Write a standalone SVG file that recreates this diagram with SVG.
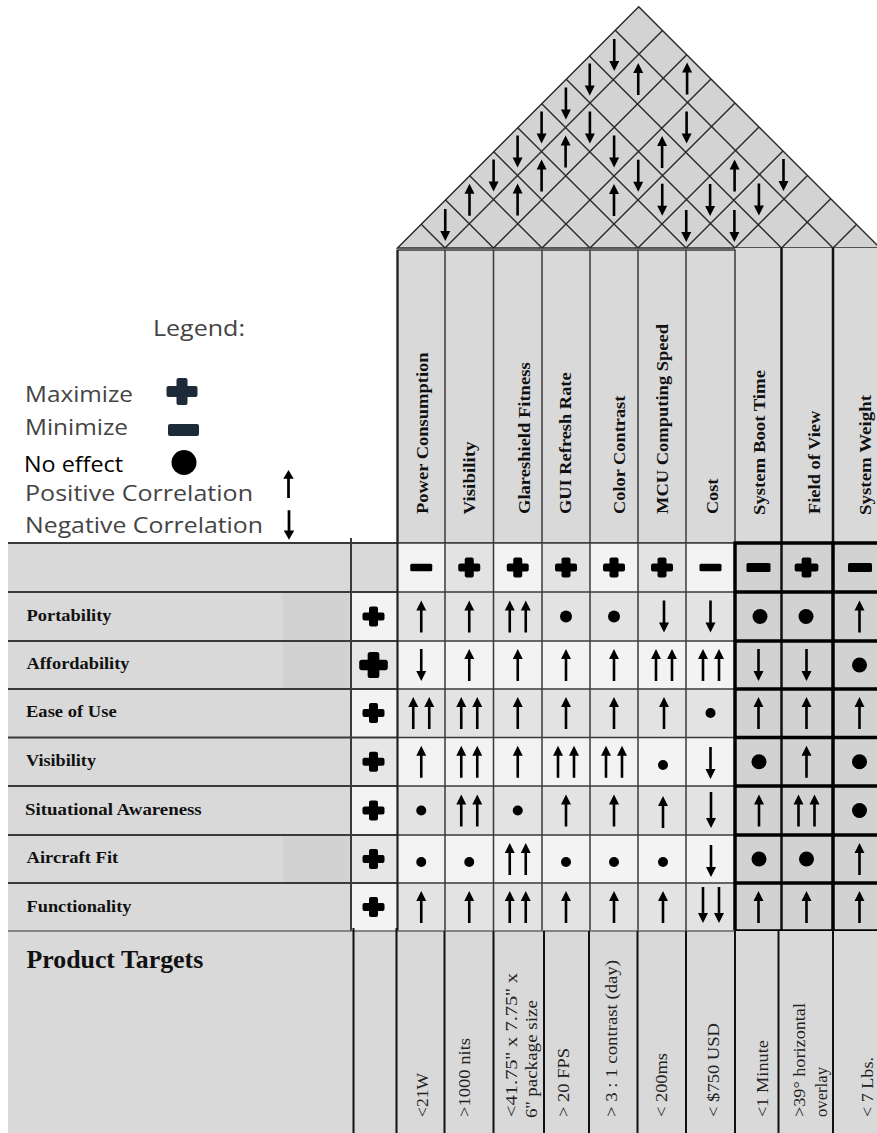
<svg xmlns="http://www.w3.org/2000/svg" xmlns:xlink="http://www.w3.org/1999/xlink" width="877" height="1133" viewBox="0 0 877 1133">
  <style>
    .serifb { font-family: "Liberation Serif", "Times New Roman", serif; font-weight: bold; font-size: 16px; fill: #111; }
    .serif { font-family: "Liberation Serif", "Times New Roman", serif; font-size: 16px; fill: #222; }
    .leg { font-family: "Open Sans", "Noto Sans", sans-serif; font-size: 21px; fill: #444; }
    .grid { stroke: #2a2a2a; stroke-width: 1.5; fill: none; }
    .thin { stroke: #3a3a3a; stroke-width: 1.5; }
    .rowline { stroke: #3a3a3a; stroke-width: 2; }
    .heavy { stroke: #000; stroke-width: 3.5; }
    .mid { stroke: #111; stroke-width: 2.5; }
    .tline { stroke: #111; stroke-width: 2; }
    .sym { fill: #000; }
  </style>
  <defs>
    <path id="up" d="M0,-16 L5,-6 L1.3,-6 L1.3,16 L-1.3,16 L-1.3,-6 L-5,-6 Z"/>
    <path id="dn" d="M0,16 L5,6 L1.3,6 L1.3,-16 L-1.3,-16 L-1.3,6 L-5,6 Z"/>
    <path id="dnL" d="M0,18 L5,8 L1.3,8 L1.3,-18 L-1.3,-18 L-1.3,8 L-5,8 Z"/>
    <g id="uu"><use href="#up" x="-8"/><use href="#up" x="8"/></g>
    <g id="dd"><use href="#dnL" x="-8"/><use href="#dnL" x="8"/></g>
    <g id="plus"><rect x="-11" y="-4" width="22" height="8" rx="2"/><rect x="-4.5" y="-10" width="9" height="20" rx="2"/></g>
    <rect id="minus" x="-11" y="-3.8" width="22" height="7.6" rx="1.5"/>
    <rect id="minusB" x="-12" y="-4.5" width="24" height="9" rx="1.5"/>
    <circle id="d5" r="5"/>
    <circle id="d6" r="6"/>
    <circle id="dB" r="7.5"/>
  </defs>

  <rect width="877" height="1133" fill="#fff"/>

  <!-- correlation roof -->
  <g id="roof">
    <polygon points="397.5,248 638.75,6.75 880,248" fill="#d3d3d3" stroke="#2a2a2a" stroke-width="1.5"/>
    <g class="grid">
      <line x1="445" y1="248" x2="662.5" y2="30.5"/>
      <line x1="493.5" y1="248" x2="686.75" y2="54.75"/>
      <line x1="542" y1="248" x2="711" y2="79"/>
      <line x1="590" y1="248" x2="735" y2="103"/>
      <line x1="638" y1="248" x2="759" y2="127"/>
      <line x1="686" y1="248" x2="783" y2="151"/>
      <line x1="735" y1="248" x2="807.5" y2="175.5"/>
      <line x1="781.5" y1="248" x2="830.75" y2="198.75"/>
      <line x1="833" y1="248" x2="856.5" y2="224.5"/>
      <line x1="445" y1="248" x2="421.25" y2="224.25"/>
      <line x1="493.5" y1="248" x2="445.5" y2="200"/>
      <line x1="542" y1="248" x2="469.75" y2="175.75"/>
      <line x1="590" y1="248" x2="493.75" y2="151.75"/>
      <line x1="638" y1="248" x2="517.75" y2="127.75"/>
      <line x1="686" y1="248" x2="541.75" y2="103.75"/>
      <line x1="735" y1="248" x2="566.25" y2="79.25"/>
      <line x1="781.5" y1="248" x2="589.5" y2="56"/>
      <line x1="833" y1="248" x2="615.25" y2="30.25"/>
    </g>
    <g class="sym">
      <use href="#dn" x="614.25" y="55"/>
      <use href="#up" x="638.25" y="79"/>
      <use href="#up" x="687.1" y="78.6"/>
      <use href="#dn" x="589.75" y="79.5"/>
      <use href="#dn" x="565.9" y="103.4"/>
      <use href="#dn" x="589.9" y="127.4"/>
      <use href="#dn" x="686.6" y="127.4"/>
      <use href="#dn" x="541.6" y="127.6"/>
      <use href="#dn" x="517.6" y="151.6"/>
      <use href="#up" x="565.6" y="151.6"/>
      <use href="#dn" x="614.1" y="151.6"/>
      <use href="#up" x="662.1" y="151.9"/>
      <use href="#dn" x="493.6" y="175.6"/>
      <use href="#up" x="541.6" y="175.6"/>
      <use href="#dn" x="638.25" y="175.75"/>
      <use href="#up" x="734.6" y="175.4"/>
      <use href="#dn" x="783.5" y="175"/>
      <use href="#up" x="469.5" y="199.75"/>
      <use href="#up" x="517.6" y="199.6"/>
      <use href="#up" x="614" y="200"/>
      <use href="#dn" x="662.25" y="199.75"/>
      <use href="#dn" x="710.1" y="199.9"/>
      <use href="#dn" x="758.9" y="199.6"/>
      <use href="#dn" x="445.25" y="225"/>
      <use href="#dn" x="686.25" y="226"/>
      <use href="#dn" x="734.4" y="226"/>
    </g>
  </g>

  <!-- engineering characteristics header -->
  <g id="header">
    <rect x="735" y="248" width="142" height="295" fill="#d9d9d9"/>
    <rect x="397.5" y="250" width="337.5" height="293" fill="#d9d9d9" stroke="#3a3a3a" stroke-width="1.5"/>
    <g class="thin">
      <line x1="445" y1="250" x2="445" y2="543"/>
      <line x1="493.5" y1="250" x2="493.5" y2="543"/>
      <line x1="542" y1="250" x2="542" y2="543"/>
      <line x1="590" y1="250" x2="590" y2="543"/>
      <line x1="638" y1="250" x2="638" y2="543"/>
      <line x1="686" y1="250" x2="686" y2="543"/>
    </g>
    <line class="mid" x1="781.5" y1="248" x2="781.5" y2="543"/>
    <line class="mid" x1="833" y1="248" x2="833" y2="543"/>
    <g class="serifb">
      <text transform="translate(428,514) rotate(-90)" textLength="161.6" lengthAdjust="spacingAndGlyphs">Power Consumption</text>
      <text transform="translate(474.5,514.5) rotate(-90)" textLength="73" lengthAdjust="spacingAndGlyphs">Visibility</text>
      <text transform="translate(530,514) rotate(-90)" textLength="151.6" lengthAdjust="spacingAndGlyphs">Glareshield Fitness</text>
      <text transform="translate(571,514) rotate(-90)" textLength="141.6" lengthAdjust="spacingAndGlyphs">GUI Refresh Rate</text>
      <text transform="translate(624.5,514) rotate(-90)" textLength="118.3" lengthAdjust="spacingAndGlyphs">Color Contrast</text>
      <text transform="translate(668,514) rotate(-90)" textLength="190" lengthAdjust="spacingAndGlyphs">MCU Computing Speed</text>
      <text transform="translate(717.5,514) rotate(-90)" textLength="35.3" lengthAdjust="spacingAndGlyphs">Cost</text>
      <text transform="translate(764.5,515) rotate(-90)" textLength="145" lengthAdjust="spacingAndGlyphs">System Boot Time</text>
      <text transform="translate(819.5,514) rotate(-90)" textLength="103.3" lengthAdjust="spacingAndGlyphs">Field of View</text>
      <text transform="translate(871,515) rotate(-90)" textLength="120" lengthAdjust="spacingAndGlyphs">System Weight</text>
    </g>
  </g>

  <!-- legend -->
  <g id="legend">
    <text class="leg" x="153" y="336" textLength="92" lengthAdjust="spacingAndGlyphs">Legend:</text>
    <text class="leg" x="25" y="401.5" textLength="108" lengthAdjust="spacingAndGlyphs">Maximize</text>
    <text class="leg" x="25" y="435" textLength="103" lengthAdjust="spacingAndGlyphs">Minimize</text>
    <text class="leg" x="24" y="471.5" textLength="99" lengthAdjust="spacingAndGlyphs" style="fill:#000">No effect</text>
    <text class="leg" x="25" y="500.5" textLength="228" lengthAdjust="spacingAndGlyphs">Positive Correlation</text>
    <text class="leg" x="25" y="533.3" textLength="238" lengthAdjust="spacingAndGlyphs">Negative Correlation</text>
    <g fill="#1d2b38">
      <rect x="166.5" y="386" width="31" height="11" rx="2"/>
      <rect x="176.5" y="378" width="11" height="27" rx="2"/>
      <rect x="168" y="424" width="31" height="12" rx="2"/>
    </g>
    <circle cx="184" cy="462.5" r="12.5" fill="#000"/>
    <use href="#up" transform="translate(288.5,484) scale(1.05,0.88)"/>
    <use href="#dn" transform="translate(289,525) scale(1.05,0.92)"/>
  </g>

  <!-- customer requirements and relationship matrix -->
  <g id="matrix">
    <rect x="8" y="543" width="343" height="388" fill="#d9d9d9"/>
    <rect x="283" y="592" width="66" height="97" fill="#d2d2d2"/>
    <rect x="283" y="835" width="66" height="48" fill="#d2d2d2"/>
    <rect x="351" y="543" width="46.5" height="49" fill="#d9d9d9"/>
    <rect x="351" y="592" width="46.5" height="49" fill="#f3f3f3"/>
    <rect x="351" y="641" width="46.5" height="48" fill="#e6e6e6"/>
    <rect x="351" y="689" width="46.5" height="48.5" fill="#f3f3f3"/>
    <rect x="351" y="737.5" width="46.5" height="48.5" fill="#e6e6e6"/>
    <rect x="351" y="786" width="46.5" height="49" fill="#f3f3f3"/>
    <rect x="351" y="835" width="46.5" height="48" fill="#e6e6e6"/>
    <rect x="351" y="883" width="46.5" height="48" fill="#f3f3f3"/>

    <rect x="397.5" y="543" width="337.5" height="49" fill="#f3f3f3"/>
    <rect x="445" y="543" width="48.5" height="49" fill="#e3e3e3"/>
    <rect x="542" y="543" width="48" height="49" fill="#e3e3e3"/>
    <rect x="638" y="543" width="48" height="49" fill="#e3e3e3"/>
    <rect x="397.5" y="592" width="337.5" height="49" fill="#e3e3e3"/>
    <rect x="397.5" y="641" width="337.5" height="48" fill="#f3f3f3"/>
    <rect x="397.5" y="689" width="337.5" height="48.5" fill="#e3e3e3"/>
    <rect x="397.5" y="737.5" width="337.5" height="48.5" fill="#f3f3f3"/>
    <rect x="397.5" y="786" width="337.5" height="49" fill="#e3e3e3"/>
    <rect x="397.5" y="835" width="337.5" height="48" fill="#f3f3f3"/>
    <rect x="397.5" y="883" width="337.5" height="48" fill="#e3e3e3"/>
    <rect x="735" y="543" width="142" height="388" fill="#d2d2d2"/>

    <g class="rowline">
      <line x1="8" y1="543" x2="397.5" y2="543"/>
      <line x1="8" y1="592" x2="397.5" y2="592"/>
      <line x1="8" y1="641" x2="397.5" y2="641"/>
      <line x1="8" y1="689" x2="397.5" y2="689"/>
      <line x1="8" y1="737.5" x2="397.5" y2="737.5"/>
      <line x1="8" y1="786" x2="397.5" y2="786"/>
      <line x1="8" y1="835" x2="397.5" y2="835"/>
      <line x1="8" y1="883" x2="397.5" y2="883"/>
      <line x1="351" y1="538" x2="351" y2="931"/>
    </g>
    <g class="thin">
      <line x1="397.5" y1="543" x2="735" y2="543"/>
      <line x1="397.5" y1="592" x2="735" y2="592"/>
      <line x1="397.5" y1="641" x2="735" y2="641"/>
      <line x1="397.5" y1="689" x2="735" y2="689"/>
      <line x1="397.5" y1="737.5" x2="735" y2="737.5"/>
      <line x1="397.5" y1="786" x2="735" y2="786"/>
      <line x1="397.5" y1="835" x2="735" y2="835"/>
      <line x1="397.5" y1="883" x2="735" y2="883"/>
      <line x1="445" y1="543" x2="445" y2="931"/>
      <line x1="493.5" y1="543" x2="493.5" y2="931"/>
      <line x1="542" y1="543" x2="542" y2="931"/>
      <line x1="590" y1="543" x2="590" y2="931"/>
      <line x1="638" y1="543" x2="638" y2="931"/>
      <line x1="686" y1="543" x2="686" y2="931"/>
    </g>
    <line x1="397.5" y1="250" x2="397.5" y2="931" stroke="#222" stroke-width="2.2"/>
    <line class="mid" x1="781.5" y1="543" x2="781.5" y2="931"/>
    <g class="heavy">
      <line x1="735" y1="541.5" x2="735" y2="932.5"/>
      <line x1="833" y1="541.5" x2="833" y2="932.5"/>
      <line x1="735" y1="543" x2="877" y2="543"/>
      <line x1="735" y1="592" x2="877" y2="592"/>
      <line x1="735" y1="641" x2="877" y2="641"/>
      <line x1="735" y1="689" x2="877" y2="689"/>
      <line x1="735" y1="737.5" x2="877" y2="737.5"/>
      <line x1="735" y1="786" x2="877" y2="786"/>
      <line x1="735" y1="835" x2="877" y2="835"/>
      <line x1="735" y1="883" x2="877" y2="883"/>
      <line x1="735" y1="931" x2="877" y2="931"/>
    </g>

    <g class="serifb">
      <text x="26.5" y="620.5" textLength="85" lengthAdjust="spacingAndGlyphs">Portability</text>
      <text x="26.5" y="669" textLength="103" lengthAdjust="spacingAndGlyphs">Affordability</text>
      <text x="26" y="717" textLength="90.7" lengthAdjust="spacingAndGlyphs">Ease of Use</text>
      <text x="26" y="766" textLength="70" lengthAdjust="spacingAndGlyphs">Visibility</text>
      <text x="25" y="815" textLength="176.7" lengthAdjust="spacingAndGlyphs">Situational Awareness</text>
      <text x="26.5" y="863" textLength="91.7" lengthAdjust="spacingAndGlyphs">Aircraft Fit</text>
      <text x="26.5" y="911.5" textLength="105" lengthAdjust="spacingAndGlyphs">Functionality</text>
    </g>

    <g class="sym">
      <!-- importance weights -->
      <use href="#plus" x="373.5" y="616.5"/>
      <use href="#plus" transform="translate(373.5,665) scale(1.3)"/>
      <use href="#plus" x="373.5" y="713"/>
      <use href="#plus" x="373.5" y="761.75"/>
      <use href="#plus" x="373.5" y="810.5"/>
      <use href="#plus" x="373.5" y="859"/>
      <use href="#plus" x="373.5" y="907"/>

      <!-- direction of improvement -->
      <use href="#minus" x="421.25" y="567.5"/>
      <use href="#plus" x="469.25" y="567.5"/>
      <use href="#plus" x="517.75" y="567.5"/>
      <use href="#plus" x="566" y="567.5"/>
      <use href="#plus" x="614" y="567.5"/>
      <use href="#plus" x="662" y="567.5"/>
      <use href="#minus" x="710.5" y="567.5"/>
      <use href="#minusB" x="758.5" y="567.5"/>
      <use href="#plus" transform="translate(806.5,567.5) scale(1.08,1)"/>
      <use href="#minusB" x="860" y="567.5"/>

      <!-- Portability -->
      <use href="#up" x="421.25" y="616.5"/>
      <use href="#up" x="469.25" y="616.5"/>
      <use href="#uu" x="517.75" y="616.5"/>
      <use href="#d6" x="566" y="616.5"/>
      <use href="#d6" x="614" y="616.5"/>
      <use href="#dn" x="664" y="616.5"/>
      <use href="#dn" x="710.5" y="616.5"/>
      <use href="#dB" x="760" y="616.5"/>
      <use href="#dB" x="806" y="616.5"/>
      <use href="#up" x="859.5" y="616.5"/>

      <!-- Affordability -->
      <use href="#dn" x="421.25" y="665"/>
      <use href="#up" x="469.25" y="665"/>
      <use href="#up" x="517.75" y="665"/>
      <use href="#up" x="566" y="665"/>
      <use href="#up" x="614" y="665"/>
      <use href="#uu" x="664" y="665"/>
      <use href="#uu" x="711" y="665"/>
      <use href="#dn" x="758.5" y="665"/>
      <use href="#dn" x="806.5" y="665"/>
      <use href="#dB" x="859.5" y="665"/>

      <!-- Ease of Use -->
      <use href="#uu" x="421.25" y="713"/>
      <use href="#uu" x="469.25" y="713"/>
      <use href="#up" x="517.75" y="713"/>
      <use href="#up" x="566" y="713"/>
      <use href="#up" x="614" y="713"/>
      <use href="#up" x="664" y="713"/>
      <use href="#d5" x="710.5" y="713"/>
      <use href="#up" x="758.5" y="713"/>
      <use href="#up" x="806.5" y="713"/>
      <use href="#up" x="859.5" y="713"/>

      <!-- Visibility -->
      <use href="#up" x="421.25" y="761.75"/>
      <use href="#uu" x="469.25" y="761.75"/>
      <use href="#up" x="517.75" y="761.75"/>
      <use href="#uu" x="566" y="761.75"/>
      <use href="#uu" x="614" y="761.75"/>
      <use href="#d5" x="663" y="765"/>
      <use href="#dn" x="710.5" y="763"/>
      <use href="#dB" x="759" y="761.75"/>
      <use href="#up" x="806.5" y="761.75"/>
      <use href="#dB" x="859.5" y="761.75"/>

      <!-- Situational Awareness -->
      <use href="#d5" x="421.25" y="810.5"/>
      <use href="#uu" x="469.25" y="810.5"/>
      <use href="#d5" x="517.75" y="810.5"/>
      <use href="#up" x="566" y="810.5"/>
      <use href="#up" x="614" y="810.5"/>
      <use href="#up" x="663" y="812"/>
      <use href="#dnL" x="711" y="810"/>
      <use href="#up" x="759" y="810.5"/>
      <use href="#uu" x="806.5" y="810.5"/>
      <use href="#dB" x="859.5" y="810.5"/>

      <!-- Aircraft Fit -->
      <use href="#d5" x="421.25" y="862"/>
      <use href="#d5" x="469.25" y="862"/>
      <use href="#uu" x="517.75" y="859"/>
      <use href="#d5" x="566" y="862"/>
      <use href="#d5" x="614" y="862"/>
      <use href="#d5" x="663" y="862"/>
      <use href="#dn" x="711" y="861"/>
      <use href="#dB" x="759" y="859"/>
      <use href="#dB" x="806.5" y="859"/>
      <use href="#up" x="859.5" y="859"/>

      <!-- Functionality -->
      <use href="#up" x="421.25" y="907"/>
      <use href="#up" x="469.25" y="907"/>
      <use href="#uu" x="517.75" y="907"/>
      <use href="#up" x="566" y="907"/>
      <use href="#up" x="614" y="907"/>
      <use href="#up" x="663" y="907"/>
      <use href="#dd" x="711" y="905"/>
      <use href="#up" x="758.5" y="907"/>
      <use href="#up" x="806.5" y="907"/>
      <use href="#up" x="859.5" y="907"/>
    </g>
  </g>

  <!-- product targets -->
  <g id="targets">
    <rect x="8" y="931" width="869" height="202" fill="#d9d9d9"/>
    <line x1="8" y1="931" x2="735" y2="931" stroke="#666" stroke-width="1.5"/>
    <g class="tline">
      <line x1="353.5" y1="928" x2="353.5" y2="1133"/>
      <line x1="396.5" y1="928" x2="396.5" y2="1133"/>
      <line x1="444.5" y1="931" x2="444.5" y2="1133"/>
      <line x1="493.5" y1="931" x2="493.5" y2="1133"/>
      <line x1="544" y1="931" x2="544" y2="1133"/>
      <line x1="589" y1="931" x2="589" y2="1133"/>
      <line x1="637.5" y1="931" x2="637.5" y2="1133"/>
      <line x1="686" y1="931" x2="686" y2="1133"/>
      <line x1="735" y1="931" x2="735" y2="1133"/>
      <line x1="778.5" y1="931" x2="778.5" y2="1133"/>
      <line x1="833" y1="931" x2="833" y2="1133"/>
    </g>
    <text class="serifb" x="26.5" y="967.5" style="font-size:25px" textLength="176.7" lengthAdjust="spacingAndGlyphs">Product Targets</text>
    <g class="serif">
      <text transform="translate(428,1117) rotate(-90)" textLength="44" lengthAdjust="spacingAndGlyphs">&lt;21W</text>
      <text transform="translate(470,1117) rotate(-90)" textLength="79" lengthAdjust="spacingAndGlyphs">&gt;1000 nits</text>
      <text transform="translate(517,1117) rotate(-90)" textLength="144" lengthAdjust="spacingAndGlyphs">&lt;41.75'' x 7.75'' x</text>
      <text transform="translate(537,1118) rotate(-90)" textLength="118" lengthAdjust="spacingAndGlyphs">6'' package size</text>
      <text transform="translate(569,1117) rotate(-90)" textLength="69" lengthAdjust="spacingAndGlyphs">&gt; 20 FPS</text>
      <text transform="translate(617,1117) rotate(-90)" textLength="157" lengthAdjust="spacingAndGlyphs">&gt; 3 : 1 contrast (day)</text>
      <text transform="translate(667,1117) rotate(-90)" textLength="64" lengthAdjust="spacingAndGlyphs">&lt; 200ms</text>
      <text transform="translate(719,1117) rotate(-90)" textLength="94" lengthAdjust="spacingAndGlyphs">&lt; $750 USD</text>
      <text transform="translate(768,1117) rotate(-90)" textLength="77" lengthAdjust="spacingAndGlyphs">&lt;1 Minute</text>
      <text transform="translate(805,1117) rotate(-90)" textLength="114" lengthAdjust="spacingAndGlyphs">&gt;39° horizontal</text>
      <text transform="translate(827,1117) rotate(-90)" textLength="50" lengthAdjust="spacingAndGlyphs">overlay</text>
      <text transform="translate(873,1117) rotate(-90)" textLength="60" lengthAdjust="spacingAndGlyphs">&lt; 7 Lbs.</text>
    </g>
  </g>
</svg>
